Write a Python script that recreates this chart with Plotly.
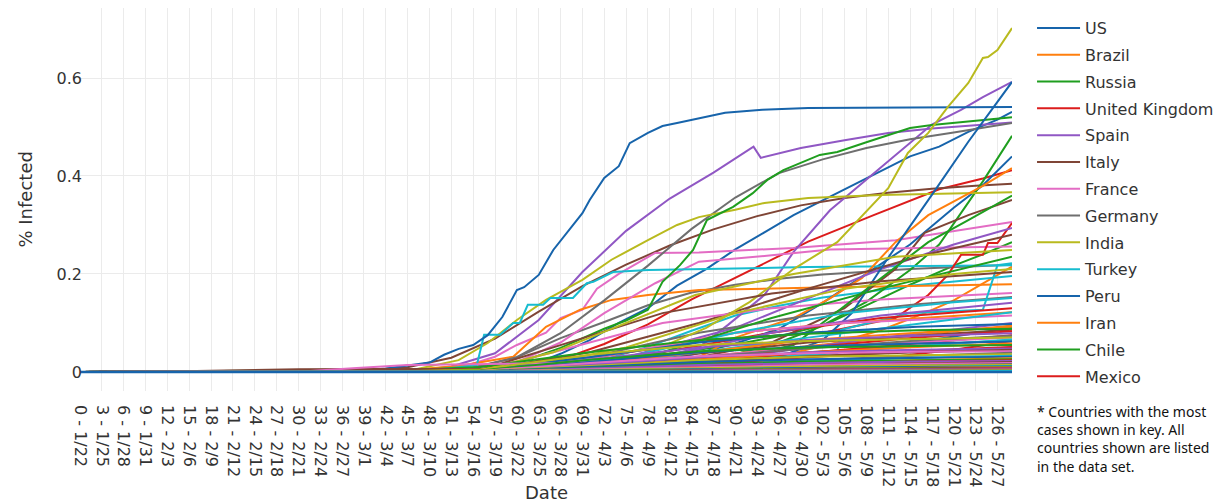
import plotly.graph_objects as go

# ---------------- tick labels (day index - date) ----------------
TICK_LABELS = ["0 - 1/22", "3 - 1/25", "6 - 1/28", "9 - 1/31", "12 - 2/3", "15 - 2/6",
               "18 - 2/9", "21 - 2/12", "24 - 2/15", "27 - 2/18", "30 - 2/21", "33 - 2/24",
               "36 - 2/27", "39 - 3/1", "42 - 3/4", "45 - 3/7", "48 - 3/10", "51 - 3/13",
               "54 - 3/16", "57 - 3/19", "60 - 3/22", "63 - 3/25", "66 - 3/28", "69 - 3/31",
               "72 - 4/3", "75 - 4/6", "78 - 4/9", "81 - 4/12", "84 - 4/15", "87 - 4/18",
               "90 - 4/21", "93 - 4/24", "96 - 4/27", "99 - 4/30", "102 - 5/3", "105 - 5/6",
               "108 - 5/9", "111 - 5/12", "114 - 5/15", "117 - 5/18", "120 - 5/21",
               "123 - 5/24", "126 - 5/27"]
LAST_DAY = 128
Y_TICKS = [0, 0.2, 0.4, 0.6]

# ---------------- countries in the key (% infected by day) ----------------
US_D = [0, 40, 50, 56, 60, 63, 66, 70, 74, 78, 82, 86, 90, 94, 98, 102, 106, 110, 114, 118, 122, 126, 128]
US_V = [0, 0.0001, 0.0006, 0.006, 0.01, 0.02, 0.037, 0.065, 0.1, 0.13, 0.176, 0.21, 0.25, 0.285, 0.32,
        0.35, 0.38, 0.41, 0.44, 0.46, 0.49, 0.515, 0.531]
BRAZIL_D = [0, 60, 72, 84, 96, 104, 110, 116, 120, 124, 128]
BRAZIL_V = [0, 0.001, 0.005, 0.013, 0.032, 0.06, 0.085, 0.12, 0.146, 0.18, 0.215]
RUSSIA_D = [0, 66, 72, 78, 84, 90, 96, 102, 108, 114, 120, 124, 128]
RUSSIA_V = [0, 0.0009, 0.003, 0.008, 0.017, 0.036, 0.06, 0.094, 0.136, 0.178, 0.217, 0.24, 0.265]
UK_D = [0, 50, 60, 66, 72, 78, 84, 91, 100, 109, 118, 124, 128]
UK_V = [0, 0.0009, 0.0085, 0.025, 0.057, 0.097, 0.148, 0.2, 0.266, 0.32, 0.373, 0.395, 0.412]
SPAIN_D = [0, 40, 45, 51, 57, 63, 69, 75, 81, 87, 92.5, 93.5, 99, 105, 111, 117, 123, 128]
SPAIN_V = [0, 0.0001, 0.001, 0.011, 0.038, 0.106, 0.204, 0.288, 0.354, 0.407, 0.46, 0.437, 0.457,
           0.473, 0.488, 0.497, 0.504, 0.509]
ITALY_D = [0, 30, 39, 45, 51, 57, 63, 69, 75, 81, 87, 93, 99, 105, 111, 117, 123, 128]
ITALY_V = [0, 0.0001, 0.003, 0.0097, 0.029, 0.068, 0.123, 0.175, 0.219, 0.258, 0.291, 0.318, 0.34,
           0.355, 0.366, 0.374, 0.38, 0.384]
FRANCE_D = [0, 45, 52, 57, 60, 64, 66, 69, 71, 74, 79, 85, 98, 112, 128]
FRANCE_V = [0, 0.0003, 0.008, 0.031, 0.055, 0.08, 0.11, 0.127, 0.17, 0.2, 0.243, 0.244, 0.253, 0.269, 0.306]
GERMANY_D = [0, 40, 48, 54, 60, 66, 72, 78, 84, 90, 96, 102, 114, 128]
GERMANY_V = [0, 0.0002, 0.002, 0.009, 0.03, 0.069, 0.102, 0.136, 0.162, 0.178, 0.19, 0.199, 0.21, 0.219]
INDIA_D = [0, 70, 90, 100, 110, 120, 128]
INDIA_V = [0, 0.0001, 0.0014, 0.0026, 0.0052, 0.0085, 0.013]
TURKEY_D = [0, 60, 66, 72, 78, 84, 90, 96, 102, 108, 114, 120, 128]
TURKEY_V = [0, 0.0014, 0.009, 0.025, 0.051, 0.084, 0.115, 0.135, 0.152, 0.163, 0.176, 0.185, 0.196]
PERU_D = [0, 70, 78, 84, 90, 96, 102, 108, 114, 120, 124, 128]
PERU_V = [0, 0.003, 0.015, 0.035, 0.058, 0.088, 0.141, 0.2, 0.26, 0.335, 0.381, 0.44]
IRAN_D = [0, 38, 45, 52, 59.5, 64, 68.7, 73, 78, 85, 100, 115, 128]
IRAN_V = [0, 0.0005, 0.004, 0.012, 0.031, 0.092, 0.127, 0.147, 0.157, 0.167, 0.172, 0.176, 0.179]
CHILE_D = [0, 66, 72, 78, 84, 90, 96, 102, 108, 114, 118, 120, 124, 128]
CHILE_V = [0, 0.006, 0.018, 0.031, 0.044, 0.056, 0.073, 0.095, 0.143, 0.208, 0.26, 0.303, 0.389, 0.482]
MEXICO_D = [0, 70, 80, 90, 100, 110, 120, 128]
MEXICO_V = [0, 0.0008, 0.003, 0.007, 0.015, 0.028, 0.045, 0.063]

# ---------------- other prominent countries (not in key) ----------------
SINGAPORE_D = [0, 50, 66, 80, 85, 89, 94, 98, 103, 107, 110, 114, 117, 121, 124, 128]
SINGAPORE_V = [0, 0.004, 0.015, 0.03, 0.05, 0.096, 0.157, 0.245, 0.33, 0.38, 0.418, 0.467, 0.505, 0.535, 0.561, 0.592]
BROWN_A_D = [0, 55, 70, 85, 95, 105, 112, 116, 122, 128]
BROWN_A_V = [0, 0.002, 0.01, 0.03, 0.06, 0.13, 0.21, 0.284, 0.32, 0.351]
PINK_A_D = [0, 50, 60, 66, 72, 79, 85, 95, 103, 115, 128]
PINK_A_V = [0, 0.002, 0.02, 0.06, 0.12, 0.181, 0.225, 0.238, 0.25, 0.253, 0.256]
BELGIUM_D = [0, 40, 48, 54, 60, 66, 72, 78, 84, 90, 96, 102, 108, 114, 120, 128]
BELGIUM_V = [0, 0.0001, 0.003, 0.008, 0.03, 0.079, 0.146, 0.217, 0.292, 0.356, 0.406, 0.434, 0.457, 0.475, 0.489, 0.508]
SWISS_D = [0, 45, 52, 56, 60, 64, 69, 73, 78, 82, 85, 90, 94, 100, 110, 120, 128]
SWISS_V = [0, 0.002, 0.024, 0.059, 0.106, 0.147, 0.188, 0.229, 0.269, 0.3, 0.316, 0.331, 0.345, 0.355, 0.361, 0.365, 0.367]
CYAN_A_D = [0, 48, 54.5, 55.5, 57.7, 59.5, 60.4, 61.5, 63.6, 64.6, 67.7, 69.6, 70.5, 71.9, 73.2, 78, 85, 100, 128]
CYAN_A_V = [0, 0.003, 0.014, 0.076, 0.076, 0.1, 0.1, 0.137, 0.137, 0.151, 0.151, 0.181, 0.184, 0.194, 0.204, 0.208, 0.21, 0.214, 0.218]
ICELAND_D = [0, 37, 42, 46, 48, 50, 52, 54, 56, 58, 60, 61, 63, 65, 67, 69, 70, 72, 74, 75.5, 78, 80, 82, 85, 88.6, 93.7, 100, 128]
ICELAND_V = [0, 0.0003, 0.007, 0.014, 0.019, 0.035, 0.047, 0.055, 0.075, 0.112, 0.167, 0.173, 0.198, 0.249, 0.286,
             0.324, 0.351, 0.396, 0.42, 0.467, 0.488, 0.502, 0.508, 0.517, 0.529, 0.535, 0.539, 0.541]
ORANGE_A_D = [0, 70, 85, 90, 98, 103, 107.4, 112, 116.5, 124, 128]
ORANGE_A_V = [0, 0.003, 0.03, 0.07, 0.11, 0.15, 0.192, 0.265, 0.32, 0.38, 0.416]
IRELAND_D = [0, 50, 56, 60, 66, 72, 75, 78, 80, 82.4, 84.2, 86.1, 89.7, 92.4, 94.4, 96.6, 101.6, 104, 108, 114, 117, 121, 128]
IRELAND_V = [0, 0.0005, 0.004, 0.018, 0.049, 0.088, 0.105, 0.127, 0.184, 0.218, 0.249, 0.31, 0.337, 0.365, 0.392,
             0.412, 0.443, 0.449, 0.469, 0.498, 0.504, 0.51, 0.52]
RED_A_D = [0, 60, 84.5, 102.7, 112, 116.5, 119.2, 121, 124, 124.7, 126, 128]
RED_A_V = [0, 0.005, 0.061, 0.082, 0.11, 0.157, 0.198, 0.239, 0.239, 0.263, 0.263, 0.304]
PURPLE_A_D = [0, 60, 75, 90, 100, 110, 120, 128]
PURPLE_A_V = [0, 0.003, 0.03, 0.09, 0.15, 0.21, 0.26, 0.294]
BROWN_B_D = [0, 55, 70, 85, 100, 115, 128]
BROWN_B_V = [0, 0.003, 0.04, 0.1, 0.17, 0.235, 0.28]
PINK_B_D = [0, 55, 65, 80, 95, 110, 128]
PINK_B_V = [0, 0.003, 0.04, 0.1, 0.13, 0.148, 0.161]
GREY_B_D = [0, 58, 70, 85, 100, 115, 128]
GREY_B_V = [0, 0.003, 0.03, 0.08, 0.115, 0.138, 0.153]
OLIVE_B_D = [0, 60, 75, 86, 92, 98, 104, 108, 111, 113.7, 116.5, 119.2, 122, 124, 124.7, 126, 128]
OLIVE_B_V = [0, 0.003, 0.02, 0.09, 0.143, 0.21, 0.265, 0.327, 0.375, 0.447, 0.488, 0.541, 0.59, 0.641, 0.643, 0.657, 0.702]
CYAN_B_D = [0, 70, 90, 104, 104.5, 114, 124, 126, 128]
CYAN_B_V = [0, 0.004, 0.02, 0.039, 0.086, 0.12, 0.127, 0.218, 0.222]
BLUE_B_D = [0, 65, 80, 90, 96, 102, 106, 110.8, 117.4, 122, 128]
BLUE_B_V = [0, 0.002, 0.008, 0.015, 0.03, 0.065, 0.12, 0.229, 0.37, 0.47, 0.592]
ORANGE_B_D = [0, 60, 75, 90, 105, 128]
ORANGE_B_V = [0, 0.004, 0.04, 0.08, 0.1, 0.122]
GREEN_B_D = [0, 70, 85, 95, 98, 107, 116.5, 122, 128]
GREEN_B_V = [0, 0.002, 0.02, 0.045, 0.055, 0.157, 0.265, 0.31, 0.36]
RED_B_D = [0, 62, 78, 95, 110, 128]
RED_B_V = [0, 0.003, 0.035, 0.08, 0.11, 0.13]
PURPLE_C_D = [0, 65, 80, 95, 110, 128]
PURPLE_C_V = [0, 0.003, 0.03, 0.08, 0.115, 0.141]
BROWN_C_D = [0, 55, 65, 80, 95, 110, 128]
BROWN_C_V = [0, 0.004, 0.05, 0.12, 0.16, 0.185, 0.204]
PINK_C_D = [0, 60, 75, 90, 105, 128]
PINK_C_V = [0, 0.003, 0.04, 0.08, 0.1, 0.115]
GREY_C_D = [0, 60, 80, 100, 128]
GREY_C_V = [0, 0.003, 0.02, 0.04, 0.065]
OLIVE_C_D = [0, 55, 65, 75, 84.5, 98, 112, 128]
OLIVE_C_V = [0, 0.003, 0.04, 0.1, 0.157, 0.2, 0.235, 0.249]
CYAN_C_D = [0, 62, 75, 90, 105, 120, 128]
CYAN_C_V = [0, 0.002, 0.03, 0.08, 0.12, 0.142, 0.151]
BLUE_C_D = [0, 70, 90, 110, 128]
BLUE_C_V = [0, 0.002, 0.02, 0.05, 0.09]
ORANGE_C_D = [0, 65, 85, 105, 128]
ORANGE_C_V = [0, 0.003, 0.03, 0.06, 0.095]
GREEN_C_D = [0, 65, 80, 95, 110, 128]
GREEN_C_V = [0, 0.004, 0.04, 0.11, 0.17, 0.235]
RED_C_D = [0, 65, 85, 105, 128]
RED_C_V = [0, 0.002, 0.02, 0.045, 0.075]
PURPLE_D_D = [0, 70, 90, 110, 128]
PURPLE_D_V = [0, 0.003, 0.03, 0.07, 0.1]
BROWN_D_D = [0, 60, 80, 100, 128]
BROWN_D_V = [0, 0.005, 0.03, 0.06, 0.086]
PINK_D_D = [0, 60, 80, 100, 128]
PINK_D_V = [0, 0.002, 0.025, 0.05, 0.07]
GREY_D_D = [0, 65, 85, 105, 128]
GREY_D_V = [0, 0.002, 0.018, 0.035, 0.05]
OLIVE_D_D = [0, 60, 75, 90, 105, 120, 128]
OLIVE_D_V = [0, 0.005, 0.05, 0.12, 0.17, 0.2, 0.21]
CYAN_D_D = [0, 65, 80, 100, 116, 128]
CYAN_D_V = [0, 0.003, 0.03, 0.07, 0.1, 0.122]

CHINA_D = [0, 10, 20, 25, 30, 40, 128]
CHINA_V = [0, 0.0005, 0.003, 0.0045, 0.0053, 0.0057, 0.006]
KOREA_D = [0, 30, 38, 45, 60, 128]
KOREA_V = [0, 0.0001, 0.008, 0.014, 0.017, 0.022]

# ---------------- the low bundle of smaller countries ----------------
BG_DAYS = [0, 40, 55, 70, 85, 100, 115, 128]
BG_ROWS = [
    [0, 0, 0.004, 0.03, 0.06, 0.08, 0.092, 0.098],
    [0, 0, 0.002, 0.015, 0.04, 0.065, 0.08, 0.092],
    [0, 0.001, 0.01, 0.04, 0.065, 0.078, 0.085, 0.088],
    [0, 0, 0.001, 0.008, 0.025, 0.05, 0.07, 0.083],
    [0, 0, 0.003, 0.025, 0.05, 0.065, 0.074, 0.079],
    [0, 0, 0.002, 0.012, 0.03, 0.048, 0.064, 0.074],
    [0, 0, 0.005, 0.035, 0.055, 0.063, 0.067, 0.07],
    [0, 0, 0.001, 0.006, 0.018, 0.035, 0.053, 0.066],
    [0, 0, 0.002, 0.02, 0.04, 0.052, 0.058, 0.062],
    [0, 0, 0.001, 0.01, 0.025, 0.04, 0.051, 0.058],
    [0, 0, 0.003, 0.025, 0.042, 0.05, 0.053, 0.055],
    [0, 0, 0.001, 0.005, 0.015, 0.03, 0.043, 0.051],
    [0, 0, 0.002, 0.015, 0.03, 0.04, 0.045, 0.048],
    [0, 0, 0.001, 0.008, 0.02, 0.032, 0.04, 0.045],
    [0, 0, 0.002, 0.018, 0.032, 0.038, 0.041, 0.042],
    [0, 0, 0, 0.004, 0.012, 0.024, 0.033, 0.039],
    [0, 0, 0.002, 0.012, 0.024, 0.031, 0.034, 0.036],
    [0, 0, 0.001, 0.006, 0.014, 0.022, 0.029, 0.033],
    [0, 0, 0.001, 0.01, 0.02, 0.026, 0.029, 0.031],
    [0, 0, 0, 0.003, 0.009, 0.017, 0.024, 0.028],
    [0, 0, 0.001, 0.008, 0.016, 0.021, 0.024, 0.026],
    [0, 0, 0.001, 0.005, 0.011, 0.017, 0.021, 0.024],
    [0, 0, 0.001, 0.007, 0.014, 0.018, 0.021, 0.022],
    [0, 0, 0, 0.003, 0.008, 0.013, 0.017, 0.02],
    [0, 0, 0.001, 0.005, 0.01, 0.014, 0.016, 0.018],
    [0, 0, 0, 0.002, 0.006, 0.01, 0.013, 0.016],
    [0, 0, 0.001, 0.004, 0.008, 0.011, 0.013, 0.014],
    [0, 0, 0, 0.002, 0.005, 0.008, 0.01, 0.012],
    [0, 0, 0, 0.003, 0.006, 0.008, 0.01, 0.011],
    [0, 0, 0, 0.002, 0.004, 0.006, 0.008, 0.01],
    [0, 0, 0, 0.002, 0.004, 0.006, 0.008, 0.009],
    [0, 0, 0, 0.001, 0.003, 0.005, 0.007, 0.008],
    [0, 0, 0, 0.001, 0.003, 0.004, 0.006, 0.007],
    [0, 0, 0, 0.001, 0.002, 0.004, 0.005, 0.006],
    [0, 0, 0, 0.001, 0.002, 0.003, 0.004, 0.005],
    [0, 0, 0, 0.001, 0.002, 0.003, 0.004, 0.004],
    [0, 0, 0, 0, 0.001, 0.002, 0.003, 0.003],
    [0, 0, 0, 0, 0.001, 0.001, 0.002, 0.002],
]
ZERO_D = [0, 128]
ZERO_V = [0, 0]

COLORWAY = ['#1764ab', '#ff7f0e', '#1f9e1f', '#dc1c1c', '#9057c4',
            '#7f4536', '#e36cc4', '#6f6f6f', '#b9ba1e', '#17bccf']

KEY = [("US", US_D, US_V), ("Brazil", BRAZIL_D, BRAZIL_V), ("Russia", RUSSIA_D, RUSSIA_V),
       ("United Kingdom", UK_D, UK_V), ("Spain", SPAIN_D, SPAIN_V), ("Italy", ITALY_D, ITALY_V),
       ("France", FRANCE_D, FRANCE_V), ("Germany", GERMANY_D, GERMANY_V), ("India", INDIA_D, INDIA_V),
       ("Turkey", TURKEY_D, TURKEY_V), ("Peru", PERU_D, PERU_V), ("Iran", IRAN_D, IRAN_V),
       ("Chile", CHILE_D, CHILE_V), ("Mexico", MEXICO_D, MEXICO_V)]

OTHERS = [("Singapore", SINGAPORE_D, SINGAPORE_V), ("Other A5", BROWN_A_D, BROWN_A_V),
          ("Other A6", PINK_A_D, PINK_A_V), ("Belgium", BELGIUM_D, BELGIUM_V),
          ("Switzerland", SWISS_D, SWISS_V), ("Luxembourg", CYAN_A_D, CYAN_A_V),
          ("Iceland", ICELAND_D, ICELAND_V), ("Other A1", ORANGE_A_D, ORANGE_A_V),
          ("Ireland", IRELAND_D, IRELAND_V), ("Other A3", RED_A_D, RED_A_V),
          ("Other A4", PURPLE_A_D, PURPLE_A_V), ("Other B5", BROWN_B_D, BROWN_B_V),
          ("Other B6", PINK_B_D, PINK_B_V), ("Other B7", GREY_B_D, GREY_B_V),
          ("Other B8", OLIVE_B_D, OLIVE_B_V), ("Other B9", CYAN_B_D, CYAN_B_V),
          ("Other B0", BLUE_B_D, BLUE_B_V), ("Other B1", ORANGE_B_D, ORANGE_B_V),
          ("Other B2", GREEN_B_D, GREEN_B_V), ("Other B3", RED_B_D, RED_B_V),
          ("Other C4", PURPLE_C_D, PURPLE_C_V), ("Other C5", BROWN_C_D, BROWN_C_V),
          ("Other C6", PINK_C_D, PINK_C_V), ("Other C7", GREY_C_D, GREY_C_V),
          ("Other C8", OLIVE_C_D, OLIVE_C_V), ("Other C9", CYAN_C_D, CYAN_C_V),
          ("Other C0", BLUE_C_D, BLUE_C_V), ("Other C1", ORANGE_C_D, ORANGE_C_V),
          ("Other C2", GREEN_C_D, GREEN_C_V), ("Other C3", RED_C_D, RED_C_V),
          ("Other D4", PURPLE_D_D, PURPLE_D_V), ("Other D5", BROWN_D_D, BROWN_D_V),
          ("Other D6", PINK_D_D, PINK_D_V), ("Other D7", GREY_D_D, GREY_D_V),
          ("Other D8", OLIVE_D_D, OLIVE_D_V), ("Other D9", CYAN_D_D, CYAN_D_V)]

fig = go.Figure()
for name, d, v in KEY:
    fig.add_trace(go.Scatter(x=d, y=v, mode="lines", name=name, legendgroup=name,
                             line=dict(width=2)))
for name, d, v in OTHERS:
    fig.add_trace(go.Scatter(x=d, y=v, mode="lines", name=name, showlegend=False,
                             line=dict(width=2)))
for i, row in enumerate(BG_ROWS):
    if i == 5:
        fig.add_trace(go.Scatter(x=CHINA_D, y=CHINA_V, mode="lines", name="China",
                                 showlegend=False, line=dict(width=2)))
        fig.add_trace(go.Scatter(x=KOREA_D, y=KOREA_V, mode="lines", name="Korea, South",
                                 showlegend=False, line=dict(width=2)))
    fig.add_trace(go.Scatter(x=BG_DAYS, y=row, mode="lines", name="Country %d" % (i + 1),
                             showlegend=False, line=dict(width=2)))
fig.add_trace(go.Scatter(x=ZERO_D, y=ZERO_V, mode="lines", name="Others",
                         showlegend=False, line=dict(width=2.5)))

tick_days = [int(t.split(" - ")[0]) for t in TICK_LABELS]
FONT = "DejaVu Sans"
TXT = "#333"
fig.update_layout(
    width=1231, height=503,
    margin=dict(l=80, r=219, t=8, b=112, autoexpand=False),
    paper_bgcolor="white", plot_bgcolor="white",
    colorway=COLORWAY,
    font=dict(family=FONT, size=16, color=TXT),
    showlegend=True,
    legend=dict(x=1.0215, y=0.992, xanchor="left", yanchor="top",
                font=dict(family=FONT, size=16, color=TXT),
                tracegroupgap=3, itemwidth=43, bgcolor="rgba(0,0,0,0)", maxheight=480),
    xaxis=dict(range=[0, LAST_DAY], tickmode="array", tickvals=tick_days, ticktext=TICK_LABELS,
               tickangle=90, showgrid=True, gridcolor="#ebebeb", gridwidth=1.3,
               zeroline=False, showline=False, ticks="", ticklabelstandoff=13, automargin=False,
               tickfont=dict(family=FONT, size=16, color=TXT)),
    yaxis=dict(range=[-0.039, 0.743], tickmode="array", tickvals=Y_TICKS,
               ticktext=[("%g" % t) for t in Y_TICKS], automargin=False, ticklabelstandoff=-3,
               showgrid=True, gridcolor="#ebebeb", gridwidth=1.3, zeroline=False, showline=False,
               ticks="", tickfont=dict(family=FONT, size=16, color=TXT)),
    annotations=[
        dict(text="Date", xref="paper", yref="paper", x=0.5, y=-0.2663,
             xanchor="center", yanchor="middle", showarrow=False,
             font=dict(family=FONT, size=18, color=TXT)),
        dict(text="% Infected", xref="paper", yref="paper", x=-0.059, y=0.5, textangle=-90,
             xanchor="center", yanchor="middle", showarrow=False,
             font=dict(family=FONT, size=18, color=TXT)),
        dict(text="* Countries with the most<br>cases shown in key. All<br>countries shown are listed<br>in the data set.",
             xref="paper", yref="paper", x=1.0247, y=-0.0235, xanchor="left", yanchor="top",
             align="left", showarrow=False,
             font=dict(family="Noto Sans", size=14, color="#111"))],
)
fig.write_html("out.html", config={"displayModeBar": False},
               post_script="document.body.style.margin='0';document.body.style.overflow='hidden';")
